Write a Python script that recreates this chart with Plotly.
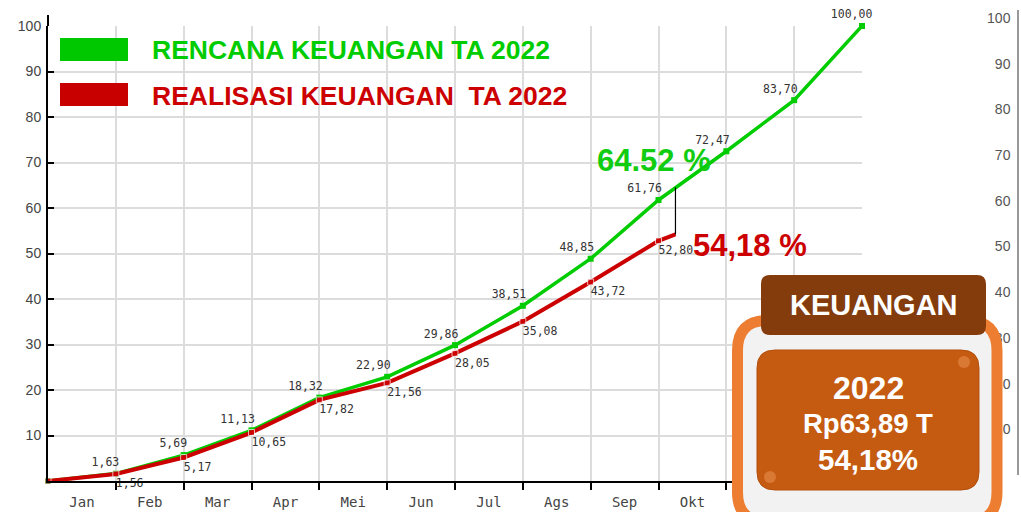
import plotly.graph_objects as go

# ---------------- data ----------------
months = ["Jan", "Feb", "Mar", "Apr", "Mei", "Jun", "Jul", "Ags", "Sep", "Okt", "Nov", "Des"]
month_pos = [i + 0.5 for i in range(12)]
x_points = list(range(13))  # 0 = start of year, k = end of month k
rencana = [0, 1.63, 5.69, 11.13, 18.32, 22.90, 29.86, 38.51, 48.85, 61.76, 72.47, 83.70, 100.00]
realisasi = [0, 1.56, 5.17, 10.65, 17.82, 21.56, 28.05, 35.08, 43.72, 52.80]
current_x = 9.25
current_rencana = 64.52
current_realisasi = 54.18
y_ticks = [10, 20, 30, 40, 50, 60, 70, 80, 90, 100]

box_year = "2022"
box_amount = "Rp63,89 T"
box_pct = "54,18%"

GREEN = "#00C800"
RED = "#CC0000"
NB = "\u00a0"

# ---------------- geometry helpers (pixel -> paper) ----------------
W, H = 1021, 512
ML, MR, MT, MB = 48, 3, 10, 31
PW = W - ML - MR
PH = H - MT - MB


def px(x):
    return (x - ML) / PW


def py(y):
    return (H - MB - y) / PH


def rrect(x0, y0, x1, y1, r):
    """rounded rectangle path (pixel coords in, paper coords out)"""
    def P(x, y):
        return f"{px(x):.5f},{py(y):.5f}"
    return (f"M {P(x0 + r, y0)} L {P(x1 - r, y0)} "
            f"Q {P(x1, y0)} {P(x1, y0 + r)} L {P(x1, y1 - r)} "
            f"Q {P(x1, y1)} {P(x1 - r, y1)} L {P(x0 + r, y1)} "
            f"Q {P(x0, y1)} {P(x0, y1 - r)} L {P(x0, y0 + r)} "
            f"Q {P(x0, y0)} {P(x0 + r, y0)} Z")


def fmt(v):
    return "" if v == 0 else f"{v:.2f}".replace(".", ",")


def plan_label(v, last=False):
    s = fmt(v)
    if not s:
        return s
    k = len(s) - (3 if last else 1)
    return s + NB * k          # centred text pushed left of the point


def real_label(v):
    s = fmt(v)
    if not s:
        return s
    return NB * len(s) + s     # centred text pushed right of the point


fig = go.Figure()

# plan line
fig.add_trace(go.Scatter(
    x=x_points, y=rencana, mode="lines+markers+text",
    line=dict(color="#00CC00", width=3.5),
    marker=dict(symbol="square", size=6, color="#00CC00"),
    text=[plan_label(v, i == len(rencana) - 1) for i, v in enumerate(rencana)],
    textposition="top center",
    textfont=dict(family="DejaVu Sans Mono", size=11.5, color="#333333"),
    cliponaxis=False, showlegend=False, hoverinfo="skip",
))

# realisation line
rx = x_points[:len(realisasi)] + [current_x]
ry = realisasi + [current_realisasi]
fig.add_trace(go.Scatter(
    x=rx, y=ry, mode="lines+markers+text",
    line=dict(color=RED, width=4),
    marker=dict(symbol="square", size=[6] * len(realisasi) + [0], color=RED),
    text=[real_label(v) for v in realisasi] + [""],
    textposition="bottom center",
    textfont=dict(family="DejaVu Sans Mono", size=11.5, color="#333333"),
    cliponaxis=False, showlegend=False, hoverinfo="skip",
))

# gap connector
fig.add_trace(go.Scatter(
    x=[current_x, current_x], y=[current_realisasi, current_rencana],
    mode="lines", line=dict(color="black", width=1.2),
    showlegend=False, hoverinfo="skip",
))

# dummy trace for the neighbouring chart's axis on the right
fig.add_trace(go.Scatter(x=[None], y=[None], xaxis="x2", yaxis="y2",
                         showlegend=False, hoverinfo="skip"))

fig.update_layout(
    width=W, height=H,
    margin=dict(l=ML, r=MR, t=MT, b=MB, autoexpand=False),
    paper_bgcolor="white", plot_bgcolor="white",
    xaxis=dict(
        domain=[0, px(862)], range=[0, 12], automargin=False,
        tickmode="array", tickvals=month_pos, ticktext=months,
        ticks="", showgrid=False, zeroline=False,
        showline=True, linecolor="black", linewidth=2,
        tickfont=dict(family="DejaVu Sans Mono", size=14, color="#444444"),
        ticklabelstandoff=7,
        minor=dict(tickmode="array", tickvals=list(range(1, 13)), showgrid=True,
                   gridcolor="#DCDCDC", gridwidth=1.5, ticks="outside",
                   ticklen=7, tickcolor="black", tickwidth=1.5),
        fixedrange=True,
    ),
    yaxis=dict(
        domain=[0, py(26)], range=[0, 100], automargin=False,
        tickmode="array", tickvals=y_ticks,
        ticks="inside", ticklen=6, tickcolor="black", tickwidth=1.5,
        showgrid=True, gridcolor="#DCDCDC", gridwidth=1.5, zeroline=False,
        showline=True, linecolor="black", linewidth=2,
        tickfont=dict(family="Liberation Sans", size=14, color="#444444"),
        ticklabelstandoff=2,
    ),
    xaxis2=dict(domain=[0.999, 1.0], visible=False, anchor="y2", automargin=False),
    yaxis2=dict(
        domain=[py(475), 1.0], range=[0, (475 - 10) / 4.57], automargin=False,
        anchor="free", position=1.0, side="left",
        tickmode="array", tickvals=y_ticks, ticks="",
        showgrid=False, zeroline=False,
        showline=True, linecolor="#999999", linewidth=1.5,
        tickfont=dict(family="Liberation Sans", size=14, color="#555555"),
        ticklabelstandoff=4,
    ),
)

shapes = []
# extension of left axis above 100
shapes.append(dict(type="line", xref="paper", yref="paper",
                   x0=0, x1=0, y0=py(26), y1=py(15),
                   line=dict(color="black", width=2), layer="above"))
# legend keys
shapes.append(dict(type="rect", xref="paper", yref="paper",
                   x0=px(60), x1=px(128), y0=py(61), y1=py(38),
                   fillcolor=GREEN, line=dict(width=0)))
shapes.append(dict(type="rect", xref="paper", yref="paper",
                   x0=px(60), x1=px(128), y0=py(106), y1=py(83),
                   fillcolor="#C80000", line=dict(width=0)))
# info box
shapes.append(dict(type="path", xref="paper", yref="paper",
                   path=rrect(737.5, 320.5, 997, 522, 30),
                   fillcolor="#F2F2F2", line=dict(color="#ED7D31", width=11),
                   layer="above"))
shapes.append(dict(type="path", xref="paper", yref="paper",
                   path=rrect(761, 275, 986, 335, 9),
                   fillcolor="#843C0C", line=dict(width=0), layer="above"))
shapes.append(dict(type="path", xref="paper", yref="paper",
                   path=rrect(757, 350, 979, 490, 18),
                   fillcolor="#C55A11", line=dict(color="#B44F0C", width=1),
                   layer="above"))
shapes.append(dict(type="circle", xref="paper", yref="paper",
                   x0=px(958), x1=px(970), y0=py(368), y1=py(356),
                   fillcolor="#F09858", opacity=0.5, line=dict(width=0),
                   layer="above"))
shapes.append(dict(type="circle", xref="paper", yref="paper",
                   x0=px(764), x1=px(776), y0=py(483), y1=py(471),
                   fillcolor="#F09858", opacity=0.5, line=dict(width=0),
                   layer="above"))
fig.update_layout(shapes=shapes)

ann = []
ann.append(dict(xref="paper", yref="paper", x=px(150), y=py(50),
                xanchor="left", yanchor="middle", showarrow=False,
                text="<b>RENCANA KEUANGAN TA 2022</b>",
                font=dict(family="Liberation Sans", size=26.5, color="#00CC00")))
ann.append(dict(xref="paper", yref="paper", x=px(150), y=py(96),
                xanchor="left", yanchor="middle", showarrow=False,
                text="<b>REALISASI KEUANGAN&nbsp; TA 2022</b>",
                font=dict(family="Liberation Sans", size=26.5, color=RED)))
ann.append(dict(xref="paper", yref="paper", x=px(654), y=py(160),
                xanchor="center", yanchor="middle", showarrow=False,
                text=f"<b>{current_rencana:.2f} %</b>",
                font=dict(family="Liberation Sans", size=31, color="#11CC11")))
ann.append(dict(xref="paper", yref="paper", x=px(750), y=py(245),
                xanchor="center", yanchor="middle", showarrow=False,
                text=f"<b>{current_realisasi:.2f} %</b>".replace(".", ","),
                font=dict(family="Liberation Sans", size=31, color=RED)))
ann.append(dict(xref="paper", yref="paper", x=px(874), y=py(305),
                xanchor="center", yanchor="middle", showarrow=False,
                text="<b>KEUANGAN</b>",
                font=dict(family="Liberation Sans", size=29, color="white")))
ann.append(dict(xref="paper", yref="paper", x=px(868), y=py(388),
                xanchor="center", yanchor="middle", showarrow=False,
                text=f"<b>{box_year}</b>",
                font=dict(family="Liberation Sans", size=32, color="white")))
ann.append(dict(xref="paper", yref="paper", x=px(868), y=py(423),
                xanchor="center", yanchor="middle", showarrow=False,
                text=f"<b>{box_amount}</b>",
                font=dict(family="Liberation Sans", size=27.5, color="white")))
ann.append(dict(xref="paper", yref="paper", x=px(868), y=py(459),
                xanchor="center", yanchor="middle", showarrow=False,
                text=f"<b>{box_pct}</b>",
                font=dict(family="Liberation Sans", size=29.5, color="white")))
fig.update_layout(annotations=ann)

fig.write_html("out.html",
               config={"displayModeBar": False},
               post_script="document.body.style.margin='0px';"
                           "document.body.style.overflow='hidden';")
